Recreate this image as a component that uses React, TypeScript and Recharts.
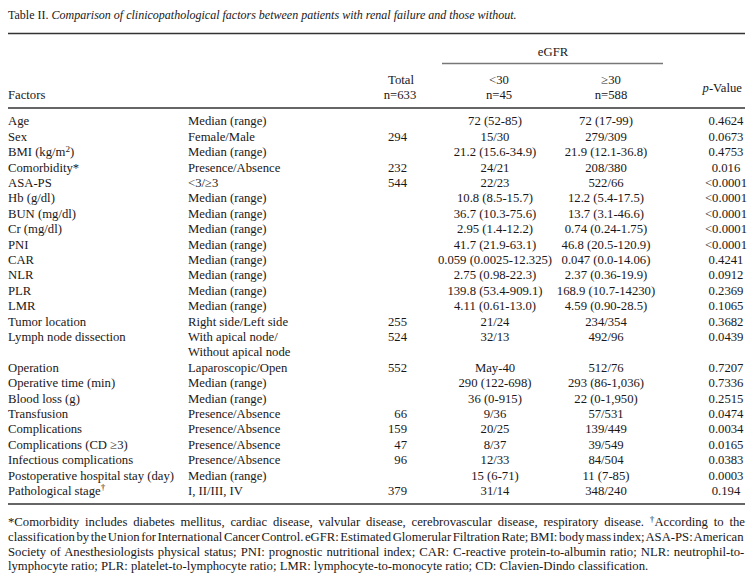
import React from 'react';
import { Surface, Layer, Text } from 'recharts';

// ---------- data ----------
const title = 'Comparison of clinicopathological factors between patients with renal failure and those without.';
const factors = [
  'Age', 'Sex', 'BMI (kg/m^2)', 'Comorbidity*', 'ASA-PS', 'Hb (g/dl)', 'BUN (mg/dl)', 'Cr (mg/dl)', 'PNI', 'CAR', 'NLR', 'PLR', 'LMR',
  'Tumor location', 'Lymph node dissection', 'Operation', 'Operative time (min)', 'Blood loss (g)', 'Transfusion', 'Complications',
  'Complications (CD \u22653)', 'Infectious complications', 'Postoperative hospital stay (day)', 'Pathological stage^\u2020',
];
const subcats = [
  'Median (range)', 'Female/Male', 'Median (range)', 'Presence/Absence', '<3/\u22653', 'Median (range)', 'Median (range)', 'Median (range)',
  'Median (range)', 'Median (range)', 'Median (range)', 'Median (range)', 'Median (range)', 'Right side/Left side',
  'With apical node/|Without apical node', 'Laparoscopic/Open', 'Median (range)', 'Median (range)', 'Presence/Absence', 'Presence/Absence',
  'Presence/Absence', 'Presence/Absence', 'Median (range)', 'I, II/III, IV',
];
const totals = ['', '294', '', '232', '544', '', '', '', '', '', '', '', '', '255', '524', '552', '', '', '66', '159', '47', '96', '', '379'];
const lt30 = [
  '72 (52-85)', '15/30', '21.2 (15.6-34.9)', '24/21', '22/23', '10.8 (8.5-15.7)', '36.7 (10.3-75.6)', '2.95 (1.4-12.2)', '41.7 (21.9-63.1)',
  '0.059 (0.0025-12.325)', '2.75 (0.98-22.3)', '139.8 (53.4-909.1)', '4.11 (0.61-13.0)', '21/24', '32/13', 'May-40', '290 (122-698)',
  '36 (0-915)', '9/36', '20/25', '8/37', '12/33', '15 (6-71)', '31/14',
];
const ge30 = [
  '72 (17-99)', '279/309', '21.9 (12.1-36.8)', '208/380', '522/66', '12.2 (5.4-17.5)', '13.7 (3.1-46.6)', '0.74 (0.24-1.75)', '46.8 (20.5-120.9)',
  '0.047 (0.0-14.06)', '2.37 (0.36-19.9)', '168.9 (10.7-14230)', '4.59 (0.90-28.5)', '234/354', '492/96', '512/76', '293 (86-1,036)',
  '22 (0-1,950)', '57/531', '139/449', '39/549', '84/504', '11 (7-85)', '348/240',
];
const pvalues = [
  '0.4624', '0.0673', '0.4753', '0.016', '<0.0001', '<0.0001', '<0.0001', '<0.0001', '<0.0001', '0.4241', '0.0912', '0.2369', '0.1065',
  '0.3682', '0.0439', '0.7207', '0.7336', '0.2515', '0.0474', '0.0034', '0.0165', '0.0383', '0.0003', '0.194',
];
const footnotes = [
  '*Comorbidity includes diabetes mellitus, cardiac disease, valvular disease, cerebrovascular disease, respiratory disease. ^\u2020According to the',
  'classification by the Union for International Cancer Control. eGFR: Estimated Glomerular Filtration Rate; BMI: body mass index; ASA-PS: American',
  'Society of Anesthesiologists physical status; PNI: prognostic nutritional index; CAR: C-reactive protein-to-albumin ratio; NLR: neutrophil-to-',
  'lymphocyte ratio; PLR: platelet-to-lymphocyte ratio; LMR: lymphocyte-to-monocyte ratio; CD: Clavien-Dindo classification.',
];

// ---------- layout ----------
const W = 754;
const H = 583;
const FS = 12.7;
const TITLE_FS = 12;
const FONT = '"Liberation Serif", "Times New Roman", serif';
const INK = '#1a1718';
const LEFT = 8;
const RIGHT = 745;
const ROW0 = 121;
const ROWH = 15.4;
const BASE = 4.3;
const X_SUB = 188;
const X_TOTAL = 407;
const X_LT = 495;
const X_GE = 606;
const X_P = 726;

let ctx: CanvasRenderingContext2D | null = null;
function measure(t: string, size = FS): number {
  if (typeof document === 'undefined') return t.length * size * 0.45;
  if (!ctx) ctx = document.createElement('canvas').getContext('2d');
  if (!ctx) return t.length * size * 0.45;
  ctx.font = `${size}px "Liberation Serif"`;
  return ctx.measureText(t).width;
}

// renders text with ^x superscript segments
function Rich({ x, y, s, anchor = 'start', wordSpacing }: { x: number; y: number; s: string; anchor?: string; wordSpacing?: number }) {
  const idx = s.indexOf('^');
  if (idx < 0) {
    return (
      <text x={x} y={y} fontSize={FS} fontFamily={FONT} fill={INK} textAnchor={anchor as any} wordSpacing={wordSpacing}>
        {s}
      </text>
    );
  }
  const a = s.slice(0, idx);
  const sup = s.slice(idx + 1, idx + 2);
  const b = s.slice(idx + 2);
  return (
    <text x={x} y={y} fontSize={FS} fontFamily={FONT} fill={INK} textAnchor={anchor as any} wordSpacing={wordSpacing} style={{ whiteSpace: 'pre' }}>
      {a}
      <tspan fontSize={FS * 0.72} dy={-4.5}>{sup}</tspan>
      <tspan dy={4.5}>{b}</tspan>
    </text>
  );
}

function Cell({ x, y, v, anchor }: { x: number; y: number; v: string; anchor: 'start' | 'middle' | 'end' }) {
  if (!v) return null;
  return (
    <Text x={x} y={y} textAnchor={anchor} verticalAnchor="end" fontSize={FS} fontFamily={FONT} fill={INK}>
      {v}
    </Text>
  );
}

export default function App() {
  // row line index for each factor (lymph node dissection takes two lines)
  const rowLine: number[] = [];
  let line = 0;
  subcats.forEach((s) => {
    rowLine.push(line);
    line += s.split('|').length;
  });
  const yOf = (l: number) => ROW0 + l * ROWH + BASE;

  const footY = [522, 537, 551.5, 566];
  const fullW = RIGHT - LEFT;

  return (
    <div style={{ position: 'absolute', left: 0, top: 0, width: W, height: H, background: '#fff' }}>
      <Surface width={W} height={H}>
        <Layer>
          <text x={LEFT} y={15 + BASE} fontSize={TITLE_FS} fontFamily={FONT} fill={INK} style={{ whiteSpace: 'pre' }}>
            {'Table II. '}
            <tspan fontStyle="italic">{title}</tspan>
          </text>
          <line x1={LEFT} x2={RIGHT} y1={33.5} y2={33.5} stroke="#333" strokeWidth={1.3} />
          <Cell x={553} y={52 + BASE} v="eGFR" anchor="middle" />
          <line x1={442} x2={663} y1={63.5} y2={63.5} stroke="#777" strokeWidth={1.5} />
          <Cell x={401} y={80 + BASE} v="Total" anchor="middle" />
          <Cell x={400} y={95 + BASE} v="n=633" anchor="middle" />
          <Cell x={499} y={80 + BASE} v="<30" anchor="middle" />
          <Cell x={499} y={95 + BASE} v="n=45" anchor="middle" />
          <Cell x={611} y={80 + BASE} v={'\u226530'} anchor="middle" />
          <Cell x={611} y={95 + BASE} v="n=588" anchor="middle" />
          <text x={742} y={88 + BASE} fontSize={FS} fontFamily={FONT} fill={INK} textAnchor="end">
            <tspan fontStyle="italic">p</tspan>-Value
          </text>
          <Cell x={LEFT} y={95 + BASE} v="Factors" anchor="start" />
          <line x1={LEFT} x2={RIGHT} y1={108} y2={108} stroke="#333" strokeWidth={1.3} />
        </Layer>
        <Layer>
          {factors.map((f, i) => {
            const l = rowLine[i];
            const y = yOf(l);
            const subs = subcats[i].split('|');
            return (
              <g key={i}>
                <Rich x={LEFT} y={y} s={f} />
                {subs.map((s, j) => (
                  <Cell key={j} x={X_SUB} y={yOf(l + j)} v={s} anchor="start" />
                ))}
                <Cell x={X_TOTAL} y={y} v={totals[i]} anchor="end" />
                <Cell x={X_LT} y={y} v={lt30[i]} anchor="middle" />
                <Cell x={X_GE} y={y} v={ge30[i]} anchor="middle" />
                <Cell x={X_P} y={y} v={pvalues[i]} anchor="middle" />
              </g>
            );
          })}
          <line x1={LEFT} x2={RIGHT} y1={504} y2={504} stroke="#333" strokeWidth={1.3} />
        </Layer>
        <Layer>
          {footnotes.map((fn, i) => {
            const last = i === footnotes.length - 1;
            let ws: number | undefined;
            if (!last) {
              const plain = fn.replace('^', '');
              const supIdx = fn.indexOf('^');
              let w = measure(plain);
              if (supIdx >= 0) {
                const ch = fn.slice(supIdx + 1, supIdx + 2);
                w = w - measure(ch) + measure(ch, FS * 0.72);
              }
              const spaces = (plain.match(/ /g) || []).length;
              ws = (fullW - w) / spaces;
            }
            return <Rich key={i} x={LEFT} y={footY[i] + BASE} s={fn} wordSpacing={ws} />;
          })}
        </Layer>
      </Surface>
    </div>
  );
}
